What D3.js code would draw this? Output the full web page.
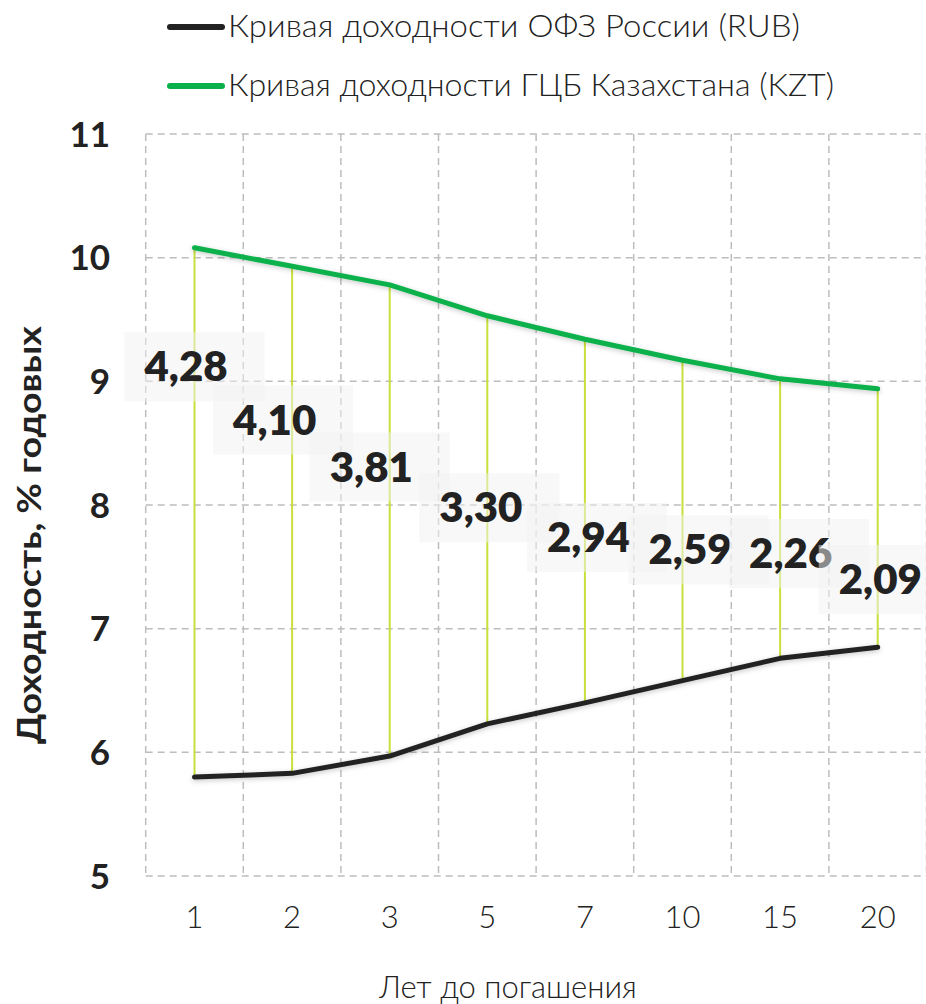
<!DOCTYPE html>
<html>
<head>
<meta charset="utf-8">
<script src="https://cdn.jsdelivr.net/npm/d3@7/dist/d3.min.js"></script>
<style>
  html, body { margin: 0; padding: 0; background: #fff; }
  svg { display: block; }
</style>
</head>
<body>
<svg id="chart" width="926" height="1004"></svg>
<script>
// Maturities (years) and yields, % p.a.
const maturities = ["1", "2", "3", "5", "7", "10", "15", "20"];
const kztYield = [10.08, 9.93, 9.78, 9.53, 9.34, 9.17, 9.02, 8.94];
const rubYield = [5.80, 5.83, 5.97, 6.23, 6.40, 6.58, 6.76, 6.85];
const yTicks = [5, 6, 7, 8, 9, 10, 11];
const seriesNames = ["Кривая доходности ОФЗ России (RUB)", "Кривая доходности ГЦБ Казахстана (KZT)"];

// Spread label placement: baseline in yield units, horizontal shift in px
const labelBaseline = [9.00, 8.57, 8.19, 7.86, 7.62, 7.52, 7.49, 7.28];
const labelShift = [-50, -59, -60, -48, -38, -34, -31, -39];

const svg = d3.select("#chart");
const W = 926, H = 1004;
const plot = { left: 145.7, right: 926.5, top: 134, bottom: 876 };

const x = d3.scaleBand().domain(maturities).range([plot.left, plot.right]).paddingInner(0).paddingOuter(0);
const y = d3.scaleLinear().domain([5, 11]).range([plot.bottom, plot.top]);
const cx = d => x(d) + x.bandwidth() / 2;

const defs = svg.append("defs");
const shadow = defs.append("filter").attr("id", "lineShadow")
  .attr("x", "-10%").attr("y", "-50%").attr("width", "120%").attr("height", "200%");
shadow.append("feDropShadow").attr("dx", 0).attr("dy", 1.5).attr("stdDeviation", 2.5)
  .attr("flood-color", "#000").attr("flood-opacity", 0.22);

const boldFont = "Lato, 'Open Sans', sans-serif";
const lightFont = "'Lato Light', 'Open Sans Light', Lato, 'Open Sans', sans-serif";

// Grid
const grid = svg.append("g").attr("stroke", "#bdbdbd").attr("stroke-width", 1.5)
  .attr("stroke-dasharray", "7,5").attr("fill", "none");
grid.selectAll("line.h").data(yTicks).join("line").attr("class", "h")
  .attr("x1", plot.left).attr("x2", W).attr("y1", d => y(d)).attr("y2", d => y(d));
const vLines = maturities.map(m => x(m)).concat([plot.right]);
grid.selectAll("line.v").data(vLines).join("line").attr("class", "v")
  .attr("x1", d => d).attr("x2", d => d).attr("y1", plot.top).attr("y2", plot.bottom);

// Y axis ticks
const yAxis = d3.axisLeft(y).tickValues(yTicks).tickSize(0).tickPadding(0).tickFormat(d3.format("d"));
const gy = svg.append("g").attr("transform", `translate(110,0)`).call(yAxis);
gy.select(".domain").remove();
gy.selectAll("text").attr("font-family", boldFont).attr("font-weight", 700)
  .attr("font-size", 35).attr("fill", "#222").attr("dy", "0.35em");

// X axis ticks
const xAxis = d3.axisBottom(x).tickSize(0).tickPadding(0);
const gx = svg.append("g").attr("transform", `translate(0,917)`).call(xAxis);
gx.select(".domain").remove();
gx.selectAll("text").attr("font-family", lightFont).attr("font-weight", 300)
  .attr("font-size", 31).attr("fill", "#222").attr("dy", "0.35em");

// Axis titles
svg.append("text").attr("x", 508).attr("y", 987).attr("dy", "0.35em")
  .attr("text-anchor", "middle").attr("font-family", lightFont).attr("font-weight", 300)
  .attr("font-size", 31).attr("fill", "#222").text("Лет до погашения");
svg.append("text").attr("transform", "translate(29,535) rotate(-90)").attr("dy", "0.35em")
  .attr("text-anchor", "middle").attr("font-family", boldFont).attr("font-weight", 700)
  .attr("font-size", 33).attr("textLength", 418).attr("lengthAdjust", "spacingAndGlyphs")
  .attr("fill", "#222").text("Доходность, % годовых");

// Drop lines between the two curves
svg.append("g").selectAll("line").data(maturities).join("line")
  .attr("x1", d => cx(d)).attr("x2", d => cx(d))
  .attr("y1", (d, i) => y(kztYield[i])).attr("y2", (d, i) => y(rubYield[i]))
  .attr("stroke", "#c9e03c").attr("stroke-width", 2);

// Yield curves
const line = d3.line().x(d => cx(d.m)).y(d => y(d.v));
const curves = [
  { values: rubYield, color: "#222222" },
  { values: kztYield, color: "#0ab14b" }
];
svg.append("g").selectAll("path").data(curves).join("path")
  .attr("d", c => line(maturities.map((m, i) => ({ m, v: c.values[i] }))))
  .attr("fill", "none").attr("stroke", c => c.color).attr("stroke-width", 5)
  .attr("stroke-linecap", "round").attr("stroke-linejoin", "round")
  .attr("filter", "url(#lineShadow)");

// Spread labels (KZT minus RUB) on translucent boxes
const fmt = v => v.toFixed(2).replace(".", ",");
maturities.forEach((m, i) => {
  const spread = Math.round((kztYield[i] - rubYield[i]) * 100) / 100;
  const left = cx(m) + labelShift[i];
  const base = y(labelBaseline[i]);
  const g = svg.append("g");
  g.append("rect").attr("x", left - 20).attr("y", base - 49).attr("width", 140).attr("height", 69)
    .attr("fill", "rgb(241,241,241)").attr("fill-opacity", 0.5);
  g.append("text").attr("x", left).attr("y", base).attr("font-family", boldFont)
    .attr("font-weight", 800).attr("font-size", 42).attr("fill", "#222").text(fmt(spread));
});

// Legend
const legendWidths = [572, 606];
const legend = svg.append("g");
seriesNames.forEach((name, i) => {
  const ly = [27, 86][i];
  legend.append("line").attr("x1", 170).attr("x2", 222).attr("y1", ly).attr("y2", ly)
    .attr("stroke", curves[i].color).attr("stroke-width", 6).attr("stroke-linecap", "round");
  legend.append("text").attr("x", 228).attr("y", ly - 1).attr("dy", "0.35em")
    .attr("font-family", lightFont).attr("font-weight", 300).attr("font-size", 31)
    .attr("textLength", legendWidths[i]).attr("lengthAdjust", "spacingAndGlyphs")
    .attr("fill", "#222").text(name);
});
</script>
</body>
</html>
